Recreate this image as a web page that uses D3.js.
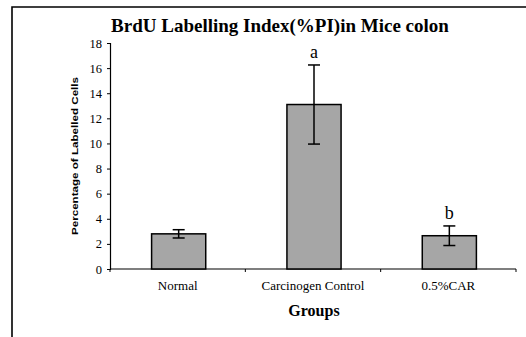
<!DOCTYPE html>
<html><head><meta charset="utf-8">
<script src="https://cdn.jsdelivr.net/npm/d3@7"></script>
<style>body{margin:0;background:#fff} text.serif{font-family:"Liberation Serif","Times New Roman",serif}</style>
</head><body>
<svg id="c" width="526" height="337"></svg>
<script>
const categories = ["Normal", "Carcinogen Control", "0.5%CAR"];
const means = [2.8, 13.1, 2.65];
const errors = [0.33, 3.15, 0.78];
const sigLabels = ["", "a", "b"];
const yTicks = [0, 2, 4, 6, 8, 10, 12, 14, 16, 18];

const svg = d3.select("#c");
const m = {left: 110, right: 516, top: 43, bottom: 269};

svg.append("path").attr("d", "M12,337V7H526").attr("fill", "none").attr("stroke", "#000").attr("stroke-width", 1.6);

const x = d3.scaleBand().domain(categories).range([m.left, m.right]).paddingInner(0).paddingOuter(0);
const y = d3.scaleLinear().domain([0, 18]).range([m.bottom, m.top]);

const yAxis = svg.append("g").attr("transform", `translate(${m.left},0)`)
  .call(d3.axisLeft(y).tickValues(yTicks).tickSize(3).tickPadding(5));
yAxis.attr("font-family", null).attr("font-size", null);
yAxis.select(".domain").attr("stroke-width", 1.2);
yAxis.selectAll("text").attr("class", "serif").style("font-size", "12.5px").attr("fill", "#000");

const xAxis = svg.append("g").attr("transform", `translate(0,${m.bottom})`)
  .call(d3.axisBottom(x).tickSize(0).tickFormat(""));
xAxis.attr("font-family", null).attr("font-size", null);
xAxis.select(".domain").attr("d", `M${m.left},0H${m.right}`).attr("stroke-width", 1.2);
const bounds = categories.map(c => x(c)).concat([x(categories[categories.length-1]) + x.bandwidth()]);
xAxis.selectAll("line.bt").data(bounds).enter().append("line").attr("class","bt")
  .attr("x1", d => d).attr("x2", d => d).attr("y1", 0).attr("y2", 3).attr("stroke", "#000");
xAxis.selectAll("text.cl").data(categories).enter().append("text").attr("class","serif")
  .attr("x", d => x(d) + x.bandwidth()/2).attr("y", 21).attr("text-anchor", "middle")
  .style("font-size", "13px").attr("fill", "#000").text(d => d);

const bw = x.bandwidth() * 0.4;
const cx = d => x(d) + x.bandwidth()/2 + 1;

svg.selectAll("rect.bar").data(categories).enter().append("rect").attr("class","bar")
  .attr("x", (d) => cx(d) - bw/2).attr("width", bw)
  .attr("y", (d,i) => y(means[i])).attr("height", (d,i) => y(0) - y(means[i]))
  .attr("fill", "#a6a6a6").attr("stroke", "#000").attr("stroke-width", 1.5);

const eb = svg.append("g").attr("stroke", "#000").attr("stroke-width", 1.5);
categories.forEach((c, i) => {
  const t = y(means[i] + errors[i]), b = y(means[i] - errors[i]);
  eb.append("line").attr("x1", cx(c)).attr("x2", cx(c)).attr("y1", t).attr("y2", b);
  eb.append("line").attr("x1", cx(c)-6).attr("x2", cx(c)+6).attr("y1", t).attr("y2", t);
  eb.append("line").attr("x1", cx(c)-6).attr("x2", cx(c)+6).attr("y1", b).attr("y2", b);
  if (sigLabels[i]) {
    svg.append("text").attr("class","serif").attr("x", cx(c)).attr("y", t - 7).attr("text-anchor", "middle")
      .style("font-size", "18px").attr("fill", "#000").text(sigLabels[i]);
  }
});

svg.append("text").attr("class","serif").attr("x", 280).attr("y", 32).attr("text-anchor", "middle")
  .style("font-weight", "bold").style("font-size", "19px")
  .attr("fill", "#000").text("BrdU Labelling Index(%PI)in Mice colon");

svg.append("text").attr("class","serif").attr("x", 314).attr("y", 316).attr("text-anchor", "middle")
  .style("font-weight", "bold").style("font-size", "16px")
  .attr("fill", "#000").text("Groups");

svg.append("text").attr("transform", "translate(78,156) rotate(-90)").attr("text-anchor", "middle")
  .style("font-family", "'Liberation Sans', Arial, sans-serif").style("font-weight", "bold").style("font-size", "9px")
  .attr("textLength", 158).attr("lengthAdjust", "spacingAndGlyphs")
  .attr("fill", "#000").text("Percentage of Labelled Cells");
</script>
</body></html>
